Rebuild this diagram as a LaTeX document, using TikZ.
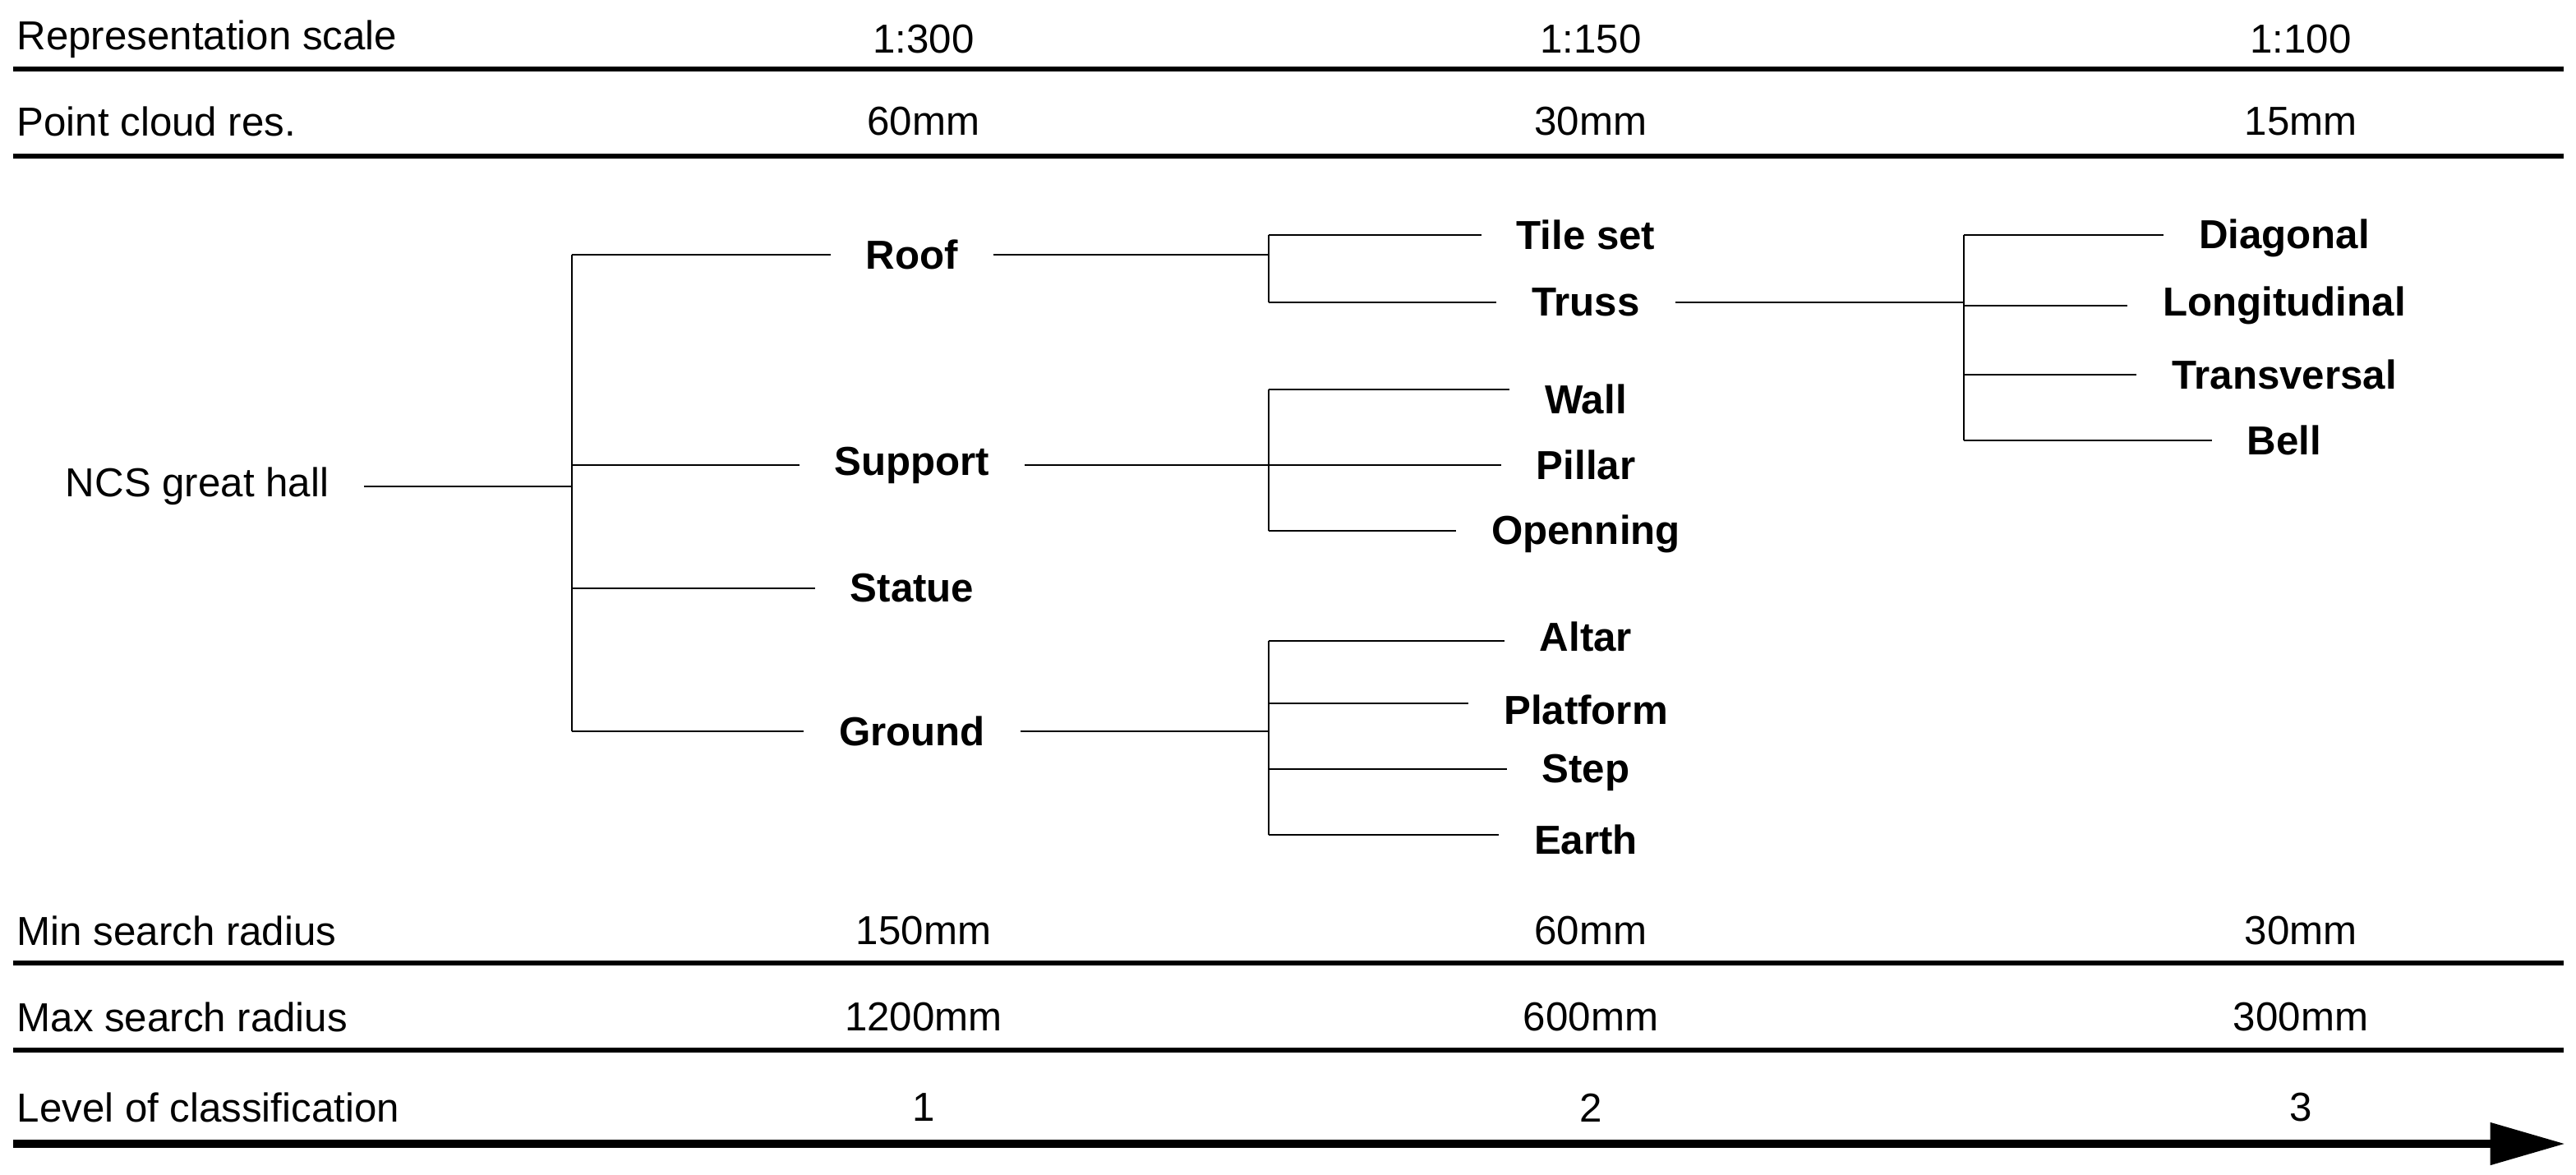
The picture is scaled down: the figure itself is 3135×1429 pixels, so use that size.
\documentclass[tikz,border=0pt]{standalone}
\usepackage{fontspec}
\setmainfont{Liberation Sans}
\usetikzlibrary{arrows.meta}
\begin{document}
\begin{tikzpicture}[x=0.01cm,y=-0.01cm,
  lbl/.style={font=\fontsize{14}{16}\selectfont, inner sep=0pt},
  tl/.style={font=\fontsize{14}{16}\selectfont\bfseries, inner ysep=0pt, inner xsep=12pt},
  rule/.style={line width=1.8pt},
  br/.style={line width=0.7pt}]
\useasboundingbox (0,0) rectangle (3135,1429);
% table rows
\foreach \yy/\ly/\name/\a/\b/\c in {48/84/Representation scale/1:300/1:150/1:100, 148/190/Point cloud res./60mm/30mm/15mm, 1133/1172/Min search radius/150mm/60mm/30mm, 1238/1278/Max search radius/1200mm/600mm/300mm}{
  \node[lbl, anchor=west] (r\yy) at (20,\yy) {\name};
  \node[lbl] (a\yy) at (1124,\yy) {\a};
  \node[lbl] (b\yy) at (1936,\yy) {\b};
  \node[lbl] (c\yy) at (2800,\yy) {\c};
  \coordinate (s\yy) at (16,\ly); \coordinate (e\yy) at (3120,\ly);
  \draw[rule] (s\yy) -- (e\yy);
}
\node[lbl, anchor=west] (lev) at (20,1348) {Level of classification};
\node[lbl] (l1) at (1124,1348) {1};
\node[lbl] (l2) at (1936,1348) {2};
\node[lbl] (l3) at (2800,1348) {3};
\coordinate (as) at (16,1392); \coordinate (ae) at (3122,1392);
\draw[line width=3pt, -{Triangle[length=26pt,width=14pt]}] (as) -- (ae);
% tree
\node[lbl, inner xsep=12pt] (ncs) at (240,592) {NCS great hall};
\coordinate (j0) at (696,592);
\draw[br] (ncs.east) -- (j0);
\node[tl] (roof) at (1110,310) {Roof};
\node[tl] (support) at (1110,566) {Support};
\node[tl] (statue) at (1110,716) {Statue};
\node[tl] (ground) at (1110,890) {Ground};
\coordinate (t0) at (696,310); \coordinate (t1) at (696,890);
\draw[br] (t0) -- (t1);
\draw[br] (t0) -- (roof.west);
\draw[br] (696,566) -- (support.west);
\draw[br] (696,716) -- (statue.west);
\draw[br] (696,890) -- (ground.west);
% roof children
\node[tl] (tile) at (1930,286) {Tile set};
\node[tl] (truss) at (1930,368) {Truss};
\coordinate (k0) at (1544,286); \coordinate (k1) at (1544,368);
\draw[br] (roof.east) -- (1544,310);
\draw[br] (k0) -- (k1);
\draw[br] (k0) -- (tile.west);
\draw[br] (k1) -- (truss.west);
% truss children
\node[tl] (diag) at (2780,290) {Diagonal};
\node[tl] (longi) at (2780,372) {Longitudinal};
\node[tl] (trans) at (2780,456) {Transversal};
\node[tl] (bell) at (2780,536) {Bell};
\coordinate (m0) at (2390,286); \coordinate (m1) at (2390,536);
\draw[br] (truss.east) -- (2390,368);
\draw[br] (m0) -- (m1);
\draw[br] (m0) -- (diag.west|-m0);
\draw[br] (2390,372) -- (longi.west);
\draw[br] (2390,456) -- (trans.west);
\draw[br] (m1) -- (bell.west);
% support children
\node[tl] (wall) at (1930,486) {Wall};
\node[tl] (pillar) at (1930,566) {Pillar};
\node[tl] (open) at (1930,650) {Openning};
\coordinate (n0) at (1544,474); \coordinate (n1) at (1544,646);
\draw[br] (support.east) -- (1544,566);
\draw[br] (n0) -- (n1);
\draw[br] (n0) -- (wall.west|-n0);
\draw[br] (1544,566) -- (pillar.west);
\draw[br] (n1) -- (open.west|-n1);
% ground children
\node[tl] (altar) at (1930,775) {Altar};
\node[tl] (plat) at (1930,864) {Platform};
\node[tl] (step) at (1930,940) {Step};
\node[tl] (earth) at (1930,1022) {Earth};
\coordinate (g0) at (1544,780); \coordinate (g1) at (1544,1016);
\draw[br] (ground.east) -- (1544,890);
\draw[br] (g0) -- (g1);
\draw[br] (g0) -- (altar.west|-g0);
\draw[br] (1544,856) -- (plat.west|-{(0,856)});
\draw[br] (1544,936) -- (step.west|-{(0,936)});
\draw[br] (g1) -- (earth.west|-g1);
\end{tikzpicture}
\end{document}
